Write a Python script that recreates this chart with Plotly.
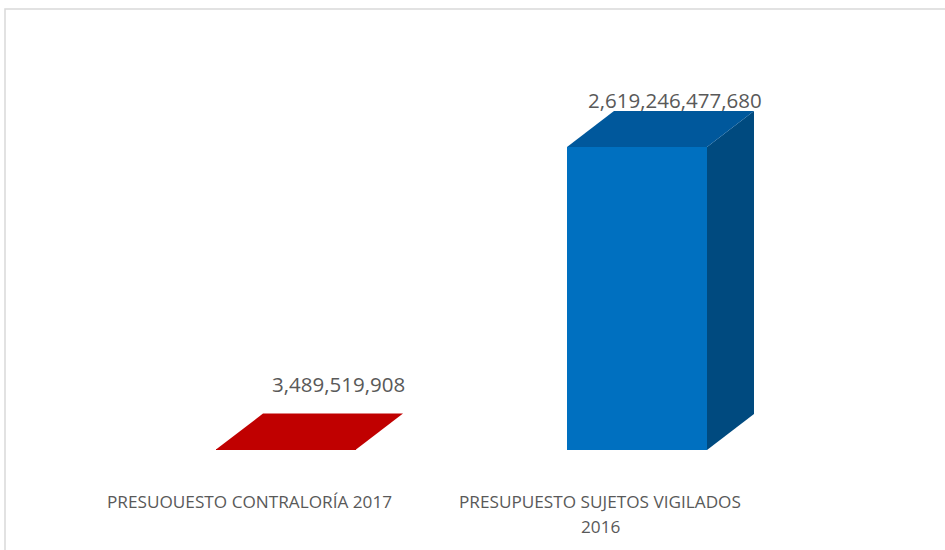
import plotly.graph_objects as go

# ---- data ----
categories = ["PRESUOUESTO CONTRALORÍA 2017", "PRESUPUESTO SUJETOS VIGILADOS<br>2016"]
values = [3489519908, 2619246477680]
value_labels = ["3,489,519,908", "2,619,246,477,680"]

# ---- styling / geometry (pixels) ----
W, H = 945, 550
base_px = 450          # pixel row of value 0
max_bar_px = 303       # pixel height of the largest bar
cat0_px = 286          # pixel column of first category centre
cat_step_px = 351      # pixels between categories
bar_w_px = 140
depth_dx_px = 47
depth_dy_px = 36

front_colors = ["#C00000", "#0070C0"]
top_colors = ["#C00000", "#00589C"]
side_colors = ["#8E0000", "#004A7F"]
label_shift = [(52, 66), (38, 47)]   # value label offsets from bar front-top centre
cat_xshift = -37
cat_line_y = 51        # px below baseline of first category line centre
cat_line_gap = 25
text_color = "#595959"
font_family = "Open Sans, Liberation Sans, Arial, sans-serif"

vpp = max(values) / max_bar_px          # value units per pixel
xpp = 1.0 / cat_step_px                 # x units per pixel
yr = [-(H - base_px) * vpp, base_px * vpp]
xr = [-cat0_px * xpp, (W - cat0_px) * xpp]
bw = bar_w_px * xpp
dx = depth_dx_px * xpp
dy = depth_dy_px * vpp

fig = go.Figure()
xs = list(range(len(categories)))

for i, v in zip(xs, values):
    # side face
    fig.add_trace(go.Scatter(
        x=[i + bw / 2, i + bw / 2 + dx, i + bw / 2 + dx, i + bw / 2, i + bw / 2],
        y=[0, dy, v + dy, v, 0],
        fill="toself", fillcolor=side_colors[i], mode="lines",
        line=dict(width=0, color=side_colors[i]), hoverinfo="skip", showlegend=False))
    # top face
    fig.add_trace(go.Scatter(
        x=[i - bw / 2, i + bw / 2, i + bw / 2 + dx, i - bw / 2 + dx, i - bw / 2],
        y=[v, v, v + dy, v + dy, v],
        fill="toself", fillcolor=top_colors[i], mode="lines",
        line=dict(width=0, color=top_colors[i]), hoverinfo="skip", showlegend=False))

fig.add_trace(go.Bar(x=xs, y=values, width=bw, marker=dict(color=front_colors, line=dict(width=0)),
                     showlegend=False, hoverinfo="skip"))

annotations = []
for i, v in zip(xs, values):
    annotations.append(dict(x=i, y=v, xref="x", yref="y", text=value_labels[i], showarrow=False,
                            xshift=label_shift[i][0], yshift=label_shift[i][1],
                            font=dict(size=20.5, color=text_color, family=font_family)))
    for j, line in enumerate(categories[i].split("<br>")):
        annotations.append(dict(x=i, y=0, xref="x", yref="y", text=line, showarrow=False,
                                xshift=cat_xshift, yshift=-(cat_line_y + j * cat_line_gap),
                                yanchor="middle", align="center",
                                font=dict(size=17.2, color=text_color, family=font_family)))

fig.update_layout(
    width=W, height=H, margin=dict(l=0, r=0, t=0, b=0),
    paper_bgcolor="white", plot_bgcolor="white",
    xaxis=dict(range=xr, visible=False, fixedrange=True),
    yaxis=dict(range=yr, visible=False, fixedrange=True),
    annotations=annotations,
    shapes=[dict(type="rect", xref="paper", yref="paper", x0=5 / W, x1=1.02, y0=-0.02, y1=1 - 9 / H,
                 line=dict(color="#D9D9D9", width=1.5), fillcolor="rgba(0,0,0,0)", layer="above")],
)

fig.write_html("out.html", config={"displayModeBar": False},
               post_script="document.body.style.margin='0';document.body.style.overflow='hidden';")
